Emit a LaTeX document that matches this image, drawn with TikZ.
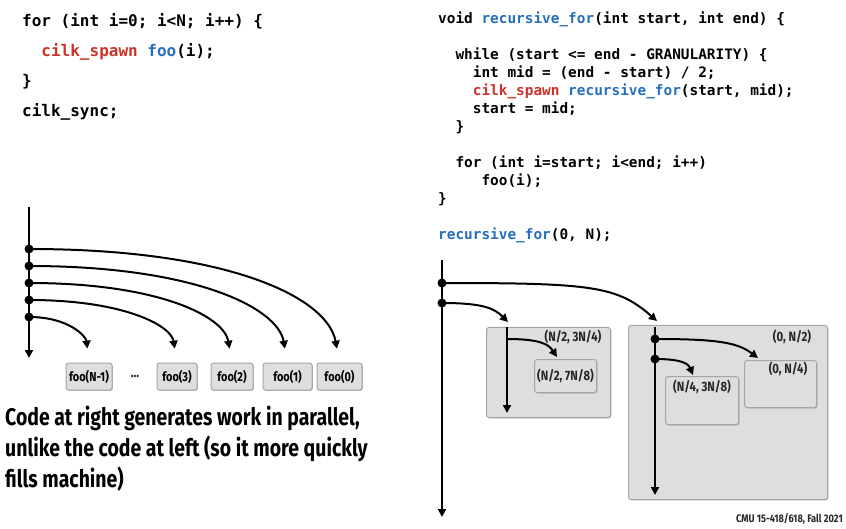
\documentclass[tikz,border=0pt]{standalone}
\usepackage{fontspec}
\setmonofont{DejaVu Sans Mono}
\newfontfamily\condfont[FakeStretch=0.84]{Fira Sans}
\newfontfamily\capfont[FakeStretch=0.81]{Fira Sans}
\usetikzlibrary{arrows.meta,shadows}
\definecolor{kwred}{RGB}{205,50,40}
\definecolor{fnblue}{RGB}{40,110,190}
\definecolor{boxgray}{RGB}{221,222,224}
\tikzset{
  lcode/.style={anchor=base west,inner sep=0,align=left,font=\ttfamily\bfseries\fontsize{16}{30}\selectfont},
  rcode/.style={anchor=base west,inner sep=0,align=left,font=\ttfamily\bfseries\fontsize{14.4}{18}\selectfont},
  thread/.style={line width=2pt,-{Triangle[length=8pt,width=8pt]}},
  spawn/.style={line width=2pt,-{Triangle[length=8pt,width=8pt]}},
  dot/.style={circle,fill=black,inner sep=0,minimum size=9pt},
  regbox/.style={draw=gray!70,fill=boxgray,rounded corners=2.5pt,line width=1pt,inner sep=0,
    drop shadow={shadow xshift=0.8pt,shadow yshift=-0.8pt,opacity=0.3,fill=black}},
  foobox/.style={regbox,minimum width=42pt,minimum height=27pt,font=\condfont\bfseries\fontsize{13}{15}\selectfont},
  lbl/.style={inner sep=0,font=\condfont\bfseries\fontsize{13.5}{15}\selectfont,text=black!85}
}

\begin{document}
\begin{tikzpicture}[x=1pt,y=-1pt]
    \useasboundingbox (0,0) rectangle (846,529);
    % code listings (anchored at the baseline of the last line)
    \node[lcode] (lc) at (22,117) {for (int i=0; i<N; i++) \{\\
      \hphantom{xx}\textcolor{kwred}{cilk\_spawn} \textcolor{fnblue}{foo}(i);\\
      \}\\
      cilk\_sync;};
    \node[rcode] (rc) at (438,240) {void \textcolor{fnblue}{recursive\_for}(int start, int end) \{\\[18pt]
      \hphantom{xx}while (start <= end - GRANULARITY) \{\\
      \hphantom{xxxx}int mid = (end - start) / 2;\\
      \hphantom{xxxx}\textcolor{kwred}{cilk\_spawn} \textcolor{fnblue}{recursive\_for}(start, mid);\\
      \hphantom{xxxx}start = mid;\\
      \hphantom{xx}\}\\[18pt]
      \hphantom{xx}for (int i=start; i<end; i++)\\
      \hphantom{xxxxx}foo(i);\\
      \}\\[18pt]
      \textcolor{fnblue}{recursive\_for}(0, N);};
    % left: serial spawning
    \coordinate (ltop) at (29,207);
    \coordinate (lbot) at (29,358);
    \draw[thread] (ltop) -- (lbot);
    \foreach \i/\y in {1/249,2/266,3/283,4/300,5/317}
        \node[dot] (d\i) at (29,\y) {};
    \node[foobox,minimum width=46pt] (fN) at (89,376.5) {foo(N-1)};
    \node[lbl,font=\condfont\bfseries\fontsize{14}{15}\selectfont] (dots) at (135,376) {...};
    \node[foobox,minimum width=40pt] (f3) at (177,376.5) {foo(3)};
    \node[foobox] (f2) at (232,376.5) {foo(2)};
    \node[foobox,minimum width=49pt] (f1) at (287.5,376.5) {foo(1)};
    \node[foobox,minimum width=45pt] (f0) at (339.5,376.5) {foo(0)};
    \foreach \d/\f/\cx/\ex/\ey in {1/f0/200/12/65,2/f1/165/10/55,3/f2/130/8/46,4/f3/95/6/37,5/fN/40/3/26}
        \draw[spawn,shorten >=14pt] (d\d.center) .. controls +(\cx,0) and +(-\ex,-\ey) .. (\f.north);
    \node[lbl,anchor=base west,align=left,text=black,font=\capfont\bfseries\fontsize{24}{31}\selectfont] (cap) at (5,487)
        {Code at right generates work in parallel,\\unlike the code at left (so it more quickly\\fills machine)};
    % right: recursive spawning
    \node[regbox,minimum width=124pt,minimum height=90pt,anchor=north west] (bA) at (486,327) {};
    \node[regbox,minimum width=62pt,minimum height=33pt,anchor=north west,lbl] (bA1) at (534,359) {(N/2, 7N/8)};
    \node[regbox,minimum width=199pt,minimum height=174pt,anchor=north west] (bB) at (628,325) {};
    \node[regbox,minimum width=72pt,minimum height=47pt,anchor=north west] (bB1) at (744,360) {};
    \node[regbox,minimum width=73pt,minimum height=48pt,anchor=north west] (bB2) at (665,376) {};
    \node[lbl] (lA) at (573,337) {(N/2, 3N/4)};
    \node[lbl] (lB) at (792,337) {(0, N/2)};
    \node[lbl] (lB1) at (788,369) {(0, N/4)};
    \node[lbl] (lB2) at (702,387) {(N/4, 3N/8)};
    \coordinate (rtop) at (442,260);
    \coordinate (rbot) at (442,517);
    \draw[thread] (rtop) -- (rbot);
    \node[dot] (r1) at (442,283) {};
    \node[dot] (r2) at (442,303) {};
    \coordinate (aTop) at (507,327);
    \coordinate (aBot) at (507,413);
    \coordinate (aBr) at (507,339);
    \draw[thread] (aTop) -- (aBot);
    \coordinate (bTop) at (655,327);
    \coordinate (bBot) at (655,495);
    \draw[thread] (bTop) -- (bBot);
    \node[dot] (b1) at (655,339) {};
    \node[dot] (b2) at (655,359) {};
    \coordinate (tA) at (508,322);
    \coordinate (tB) at (657,321);
    \coordinate (tA1) at (557,357);
    \coordinate (tB1) at (758,358);
    \coordinate (tB2) at (693,375);
    \draw[spawn] (r1.center) .. controls +(150,0) and +(-40,-35) .. (tB);
    \draw[spawn] (r2.center) .. controls +(40,0) and +(-14,-14) .. (tA);
    \draw[spawn] (aBr) .. controls +(35,0) and +(-8,-12) .. (tA1);
    \draw[spawn] (b1.center) .. controls +(65,0) and +(-20,-15) .. (tB1);
    \draw[spawn] (b2.center) .. controls +(25,0) and +(-5,-12) .. (tB2);
    \node[lbl,anchor=base east,font=\condfont\bfseries\fontsize{11}{13}\selectfont] (ft) at (843,522) {CMU 15-418/618, Fall 2021};
\end{tikzpicture}
\end{document}
